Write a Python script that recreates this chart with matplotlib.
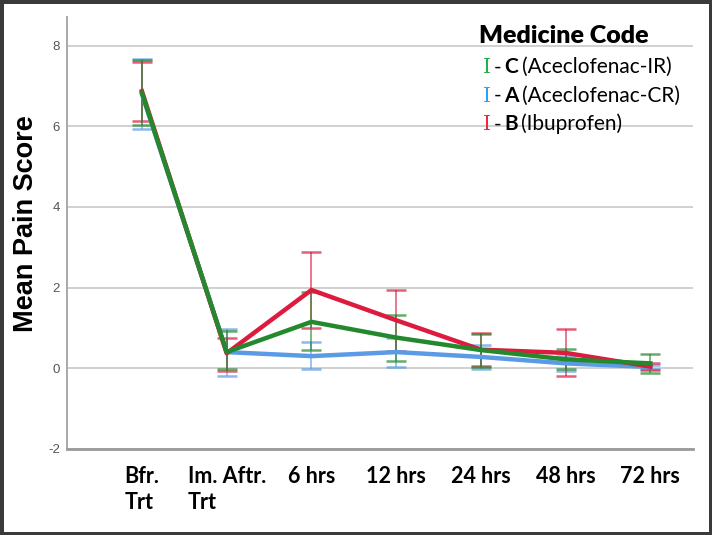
import matplotlib
matplotlib.use("Agg")
import matplotlib.pyplot as plt
import numpy as np

plt.rcParams["axes.unicode_minus"] = False

# Datos (medias y límites del IC 95%)
categorias = ["Bfr.\nTrt", "Im. Aftr.\nTrt", "6 hrs", "12 hrs", "24 hrs", "48 hrs", "72 hrs"]

c_media = [6.83, 0.40, 1.15, 0.76, 0.45, 0.22, 0.12]
c_inf = [6.02, -0.03, 0.45, 0.18, 0.03, -0.02, -0.13]
c_sup = [7.64, 0.93, 1.89, 1.31, 0.86, 0.47, 0.36]

a_media = [6.80, 0.40, 0.30, 0.40, 0.28, 0.12, 0.03]
a_inf = [5.92, -0.20, -0.03, 0.02, -0.02, -0.07, -0.02]
a_sup = [7.68, 0.97, 0.65, 0.75, 0.57, 0.31, 0.08]

b_media = [6.87, 0.37, 1.94, 1.19, 0.46, 0.38, 0.04]
b_inf = [6.13, -0.07, 1.00, 0.43, 0.05, -0.20, -0.05]
b_sup = [7.60, 0.76, 2.89, 1.94, 0.87, 0.97, 0.12]

leyenda_codigo = ["C", "A", "B"]
leyenda_nombre = ["(Aceclofenac-IR)", "(Aceclofenac-CR)", "(Ibuprofen)"]

verde, azul, rojo = "#24892c", "#5b9be6", "#dc1b3f"
verde_ley, azul_ley, rojo_ley = "#22b04a", "#29a3f0", "#f0283c"

fig = plt.figure(figsize=(7.12, 5.35), dpi=100)
fig.patch.set_edgecolor("#3a3a3a")
fig.patch.set_linewidth(5)
ax = fig.add_axes([0.094, 0.161, 0.879, 0.808])

x = np.arange(len(categorias))

series = [
    (a_media, a_inf, a_sup, azul),
    (b_media, b_inf, b_sup, rojo),
    (c_media, c_inf, c_sup, verde),
]

# Barras de error primero
for media, inf, sup, color in series:
    media = np.array(media)
    yerr = [media - np.array(inf), np.array(sup) - media]
    ax.errorbar(x, media, yerr=yerr, fmt="none", ecolor=color, elinewidth=1.2,
                capsize=7.2, capthick=1.8, alpha=0.7, zorder=3)

# Líneas de medias
for media, inf, sup, color in series:
    ax.plot(x, media, color=color, linewidth=3.2, zorder=4)

ax.set_xlim(-0.885, 6.5)
ax.set_ylim(-2, 8.72)
ax.set_yticks([-2, 0, 2, 4, 6, 8])
ax.set_xticks(x)
ax.set_xticklabels(categorias, fontfamily="Lato", fontweight="bold", fontsize=15.5,
                   multialignment="left", linespacing=1.3)
for lbl in ax.get_yticklabels():
    lbl.set_fontfamily("Liberation Sans")
    lbl.set_fontsize(9.5)
    lbl.set_color("#555555")
ax.tick_params(axis="both", length=0)
ax.tick_params(axis="y", pad=5)
ax.tick_params(axis="x", pad=12)

ax.grid(axis="y", color="#d0d0d0", linewidth=1.4, zorder=0)
ax.set_axisbelow(True)
for lado in ["top", "right"]:
    ax.spines[lado].set_visible(False)
ax.spines["left"].set_color("#a8a8a8")
ax.spines["left"].set_linewidth(1.4)
ax.spines["bottom"].set_color("#9a9a9a")
ax.spines["bottom"].set_linewidth(2)

ax.set_ylabel("Mean Pain Score", fontfamily="Liberation Sans", fontweight="bold",
              fontsize=19.5)
ax.yaxis.set_label_coords(-0.066, 0.52)
ax.yaxis.label.set_va("center")

# Leyenda hecha con texto
ax.text(0.658, 0.955, "Medicine Code", transform=ax.transAxes, fontfamily="Lato",
        fontweight="heavy", fontsize=18, va="center", ha="left")
colores_ley = [verde_ley, azul_ley, rojo_ley]
for i, (cod, nom, col) in enumerate(zip(leyenda_codigo, leyenda_nombre, colores_ley)):
    yy = 0.869 - i * 0.066
    t1 = ax.text(0.664, yy, "I", transform=ax.transAxes, fontfamily="DejaVu Serif",
                 fontsize=14.5, color=col, va="baseline", ha="left")
    t2 = ax.annotate("-", xy=(1, 0), xycoords=t1, xytext=(2, 0), textcoords="offset points",
                     fontfamily="Lato", fontsize=15, va="bottom", ha="left")
    t3 = ax.annotate(cod, xy=(1, 0), xycoords=t2, xytext=(2.5, 0), textcoords="offset points",
                     fontfamily="Lato", fontweight="bold", fontsize=15, va="bottom", ha="left")
    ax.annotate(nom, xy=(1, 0), xycoords=t3, xytext=(2.5, 0), textcoords="offset points",
                fontfamily="Lato", fontsize=15, va="bottom", ha="left")

fig.savefig("out.png", dpi=100)
